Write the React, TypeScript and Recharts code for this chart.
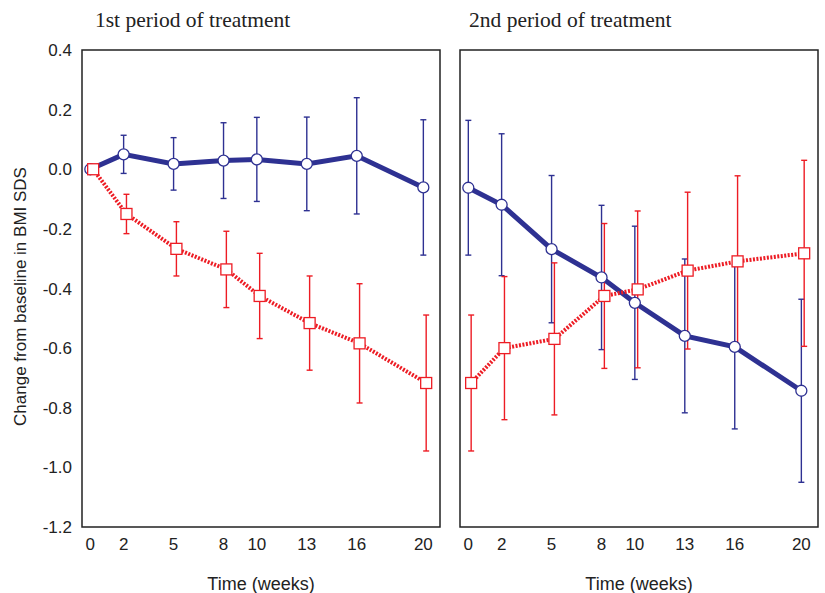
import React from 'react';
import { LineChart, Line, XAxis, YAxis, ErrorBar, ReferenceArea } from 'recharts';

// weeks since the start of each treatment period
const weeks = [0, 2, 5, 8, 10, 13, 16, 20];
const yTicks = [-1.2, -1.0, -0.8, -0.6, -0.4, -0.2, 0.0, 0.2, 0.4];

// 1st period
const p1Blue = [0, 0.05, 0.018, 0.029, 0.033, 0.018, 0.045, -0.061];
const p1BlueErr = [0, 0.064, 0.088, 0.127, 0.141, 0.157, 0.195, 0.227];
const p1Red = [0, -0.15, -0.267, -0.336, -0.425, -0.516, -0.584, -0.717];
const p1RedErr = [0, 0.066, 0.091, 0.128, 0.143, 0.158, 0.2, 0.228];

// 2nd period
const p2Blue = [-0.062, -0.119, -0.268, -0.363, -0.448, -0.559, -0.596, -0.743];
const p2BlueErr = [0.226, 0.238, 0.247, 0.242, 0.257, 0.258, 0.275, 0.307];
const p2Red = [-0.717, -0.6, -0.569, -0.425, -0.403, -0.34, -0.309, -0.282];
const p2RedErr = [0.228, 0.24, 0.255, 0.243, 0.263, 0.263, 0.287, 0.312];

// the red points sit a touch to the right of the blue ones
const redShift = 0.17;
const xDomain: [number, number] = [-0.5, 21];
const yDomain: [number, number] = [-1.2, 0.4];

const BLUE = '#2e3192';
const RED = '#ed1c24';
const FONT = 'Liberation Sans, Arial, sans-serif';

const toRows = (vals: number[], errs: number[], shift = 0) =>
  weeks.map((w, i) => ({ x: w + shift, y: vals[i], err: errs[i] }));

const Square = (props: any) => {
  const { cx, cy, index } = props;
  if (cx == null || cy == null) return <g key={index} />;
  return <rect key={index} x={cx - 5.5} y={cy - 5.5} width={11} height={11} fill="#fff" stroke={RED} strokeWidth={1.3} />;
};

interface PanelProps {
  blue: number[];
  blueErr: number[];
  red: number[];
  redErr: number[];
  showY: boolean;
  width: number;
  left: number;
}

const Panel: React.FC<PanelProps> = ({ blue, blueErr, red, redErr, showY, width, left }) => {
  const blueRows = toRows(blue, blueErr);
  const redRows = toRows(red, redErr, redShift);
  return (
    <LineChart width={width} height={593} margin={{ top: 50, right: 7, left, bottom: 36 }}>
      <XAxis
        type="number"
        dataKey="x"
        domain={xDomain}
        ticks={weeks}
        allowDataOverflow
        tickLine={false}
        tickSize={9}
        tickMargin={2}
        height={30}
        axisLine={false}
        tick={{ fill: '#222', fontSize: 17, fontFamily: FONT }}
        label={{ value: 'Time (weeks)', position: 'bottom', offset: 20, fill: '#222', fontSize: 18, fontFamily: FONT }}
      />
      <YAxis
        type="number"
        domain={yDomain}
        ticks={yTicks}
        width={showY ? 82 : 0}
        tick={showY ? { fill: '#222', fontSize: 17, fontFamily: FONT } : false}
        tickFormatter={(v: number) => v.toFixed(1)}
        tickLine={false}
        tickSize={8}
        tickMargin={2}
        axisLine={false}
        label={showY ? { value: 'Change from baseline in BMI SDS', angle: -90, position: 'insideLeft', offset: 20, dy: 8, fill: '#222', fontSize: 17, fontFamily: FONT, style: { textAnchor: 'middle' } } : undefined}
      />
      <ReferenceArea x1={xDomain[0]} x2={xDomain[1]} y1={yDomain[0]} y2={yDomain[1]} fill="none" stroke="#222" strokeWidth={1.5} />
      <Line
        data={blueRows}
        dataKey="y"
        stroke={BLUE}
        strokeWidth={5}
        dot={{ r: 5.5, fill: '#fff', stroke: BLUE, strokeWidth: 1.3 }}
        activeDot={false}
        isAnimationActive={false}
      >
        <ErrorBar dataKey="err" direction="y" width={3} stroke={BLUE} strokeWidth={1.4} isAnimationActive={false} />
      </Line>
      <Line
        data={redRows}
        dataKey="y"
        stroke={RED}
        strokeWidth={4}
        strokeDasharray="2 1.5"
        dot={<Square />}
        activeDot={false}
        isAnimationActive={false}
      >
        <ErrorBar dataKey="err" direction="y" width={3} stroke={RED} strokeWidth={1.4} isAnimationActive={false} />
      </Line>
    </LineChart>
  );
};

const titleStyle: React.CSSProperties = {
  position: 'absolute',
  top: 7,
  fontFamily: 'Liberation Serif, Times New Roman, serif',
  fontSize: 21.5,
  lineHeight: '26px',
  color: '#222',
  whiteSpace: 'nowrap',
};

export default function App() {
  return (
    <div style={{ position: 'absolute', left: 0, top: 0, width: 825, height: 593, background: '#fff' }}>
      <div style={{ ...titleStyle, left: 95 }}>1st period of treatment</div>
      <div style={{ ...titleStyle, left: 469 }}>2nd period of treatment</div>
      <div style={{ position: 'absolute', left: 0, top: 0 }}>
        <Panel blue={p1Blue} blueErr={p1BlueErr} red={p1Red} redErr={p1RedErr} showY width={447} left={0} />
      </div>
      <div style={{ position: 'absolute', left: 450, top: 0 }}>
        <Panel blue={p2Blue} blueErr={p2BlueErr} red={p2Red} redErr={p2RedErr} showY={false} width={375} left={10} />
      </div>
    </div>
  );
}
